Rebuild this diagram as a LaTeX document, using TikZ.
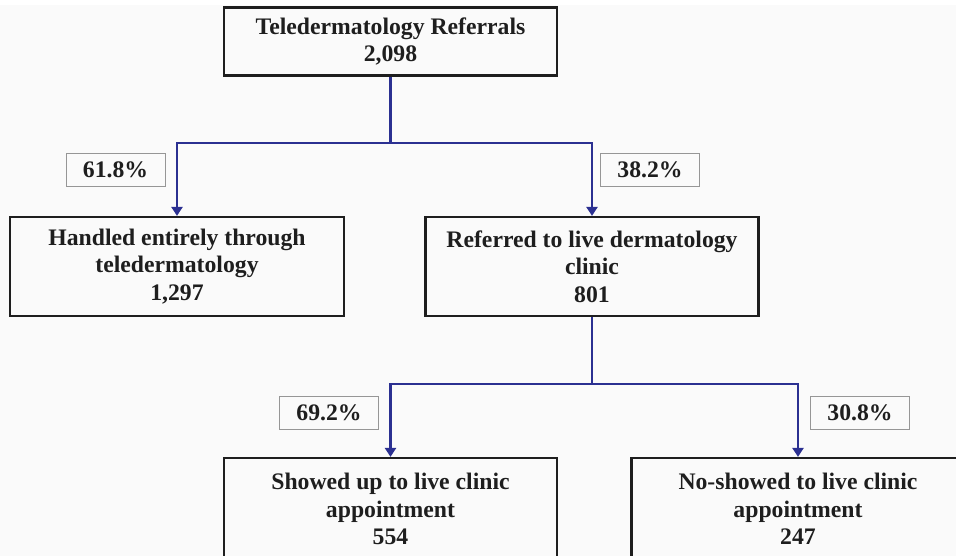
\documentclass[tikz,border=0pt]{standalone}
\usepackage{fontspec}
\setmainfont{Liberation Serif}
\usetikzlibrary{arrows.meta}
\definecolor{linkblue}{RGB}{43,48,145}
\definecolor{bg}{RGB}{250,250,250}
\definecolor{lblgray}{RGB}{150,150,150}
\definecolor{ink}{RGB}{30,30,30}
\begin{document}
\begin{tikzpicture}[x=1pt,y=-1pt,
  txt/.style={text=ink,font=\fontsize{23.7pt}{27.5pt}\selectfont\bfseries},
  mainbox/.style={txt,draw=ink,line width=2.2pt,align=center,inner sep=0pt},
  pct/.style={txt,draw=lblgray,line width=1pt,minimum width=99pt,minimum height=33pt,inner sep=0pt},
  link/.style={draw=linkblue,line width=2.4pt},
  arr/.style={link,-{Triangle[length=9pt,width=11pt]}}
]
\useasboundingbox (0,0) rectangle (956,556);
\clip (0,0) rectangle (956,556);
\fill[white] (0,0) rectangle (956,556);
\fill[bg] (0,5) rectangle (956,556);

\node[mainbox,minimum width=333pt,minimum height=68pt] (top) at (390.5,41.5) {Teledermatology Referrals\\2,098};
\node[mainbox,minimum width=334pt,minimum height=99pt] (left) at (177,266.5) {Handled entirely through\\teledermatology\\1,297};
\node[mainbox,minimum width=333pt,minimum height=99pt] (right) at (592,266.5) {Referred to live dermatology\\clinic\\801};
\node[mainbox,minimum width=333pt,minimum height=102pt] (show) at (390.5,509) {Showed up to live clinic\\appointment\\554};
\node[mainbox,minimum width=333pt,minimum height=102pt] (noshow) at (798,509) {No-showed to live clinic\\appointment\\247};

\node[pct] (p1) at (115.5,170) {61.8\%};
\node[pct] (p2) at (650,170) {38.2\%};
\node[pct] (p3) at (329,412.5) {69.2\%};
\node[pct] (p4) at (860,412.5) {30.8\%};

\coordinate (s1) at (390.5,143);
\coordinate (s2) at (592,384);
\draw[link] (top.south) -- (s1);
\draw[arr] (s1) -| (left.north);
\draw[arr] (s1) -| (right.north);
\draw[link] (right.south) -- (s2);
\draw[arr] (s2) -| (show.north);
\draw[arr] (s2) -| (noshow.north);
\end{tikzpicture}
\end{document}
